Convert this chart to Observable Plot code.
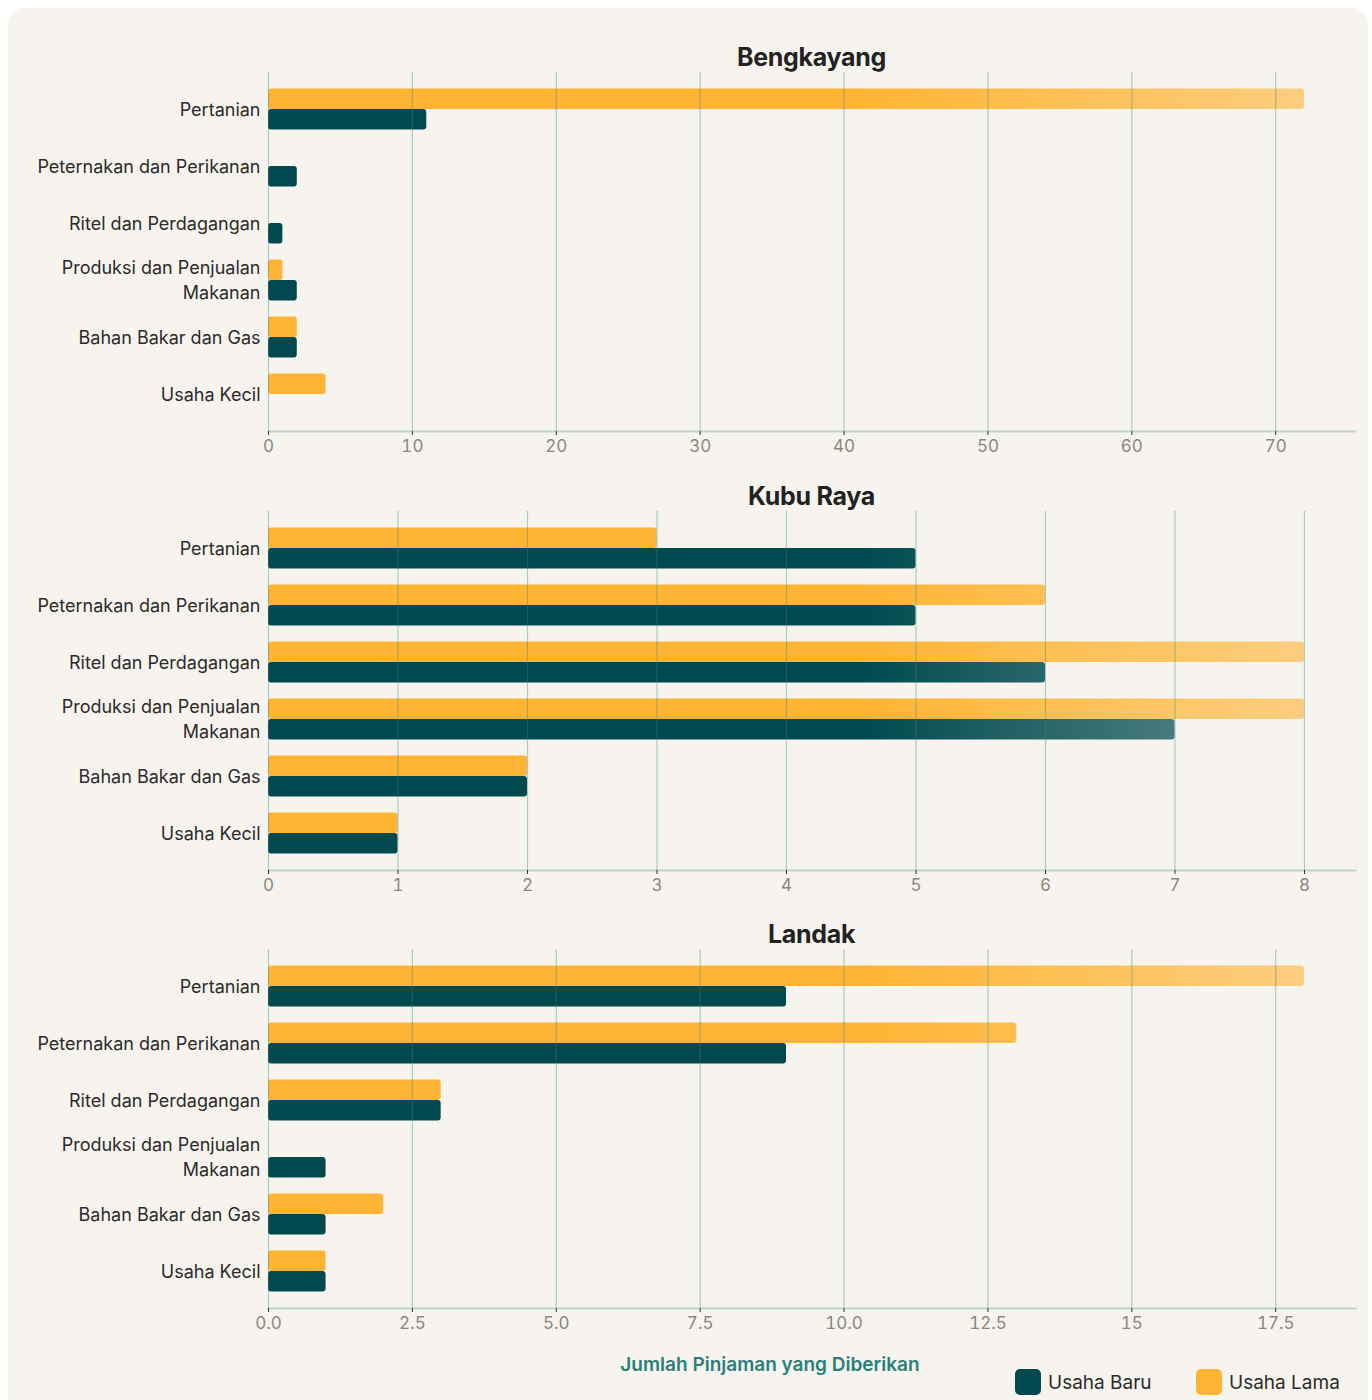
<!DOCTYPE html>
<html>
<head>
<meta charset="utf-8">
<script src="https://cdn.jsdelivr.net/npm/d3@7"></script>
<script src="https://cdn.jsdelivr.net/npm/@observablehq/plot@0.6"></script>
<style>
  html, body { margin: 0; padding: 0; background: #ffffff; }
  body { width: 1372px; height: 1400px; position: relative; overflow: hidden; font-family: Inter, "Noto Sans", sans-serif; }
  #card { position: absolute; left: 8px; top: 8px; width: 1360px; height: 1430px; background: #f7f4ef; border-radius: 16px; }
  .title { position: absolute; left: 268px; width: 1087px; text-align: center; font-size: 25px; font-weight: 700; color: #222; line-height: 30px; letter-spacing: -0.3px; }
  .panel { position: absolute; left: 0; }
  #xlabel { position: absolute; left: 570px; width: 400px; text-align: center; top: 1352px; font-size: 19px; font-weight: 600; color: #2a7f7a; line-height: 26px; }
  .leg { position: absolute; top: 1369px; display: flex; align-items: center; font-size: 19px; color: #2b2b2b; }
  .sw { width: 26px; height: 26px; border-radius: 5px; margin-right: 7px; }
</style>
</head>
<body>
<div id="card"></div>
<div id="root"></div>
<script>
// ---- data ----
const categories = ["Pertanian", "Peternakan dan Perikanan", "Ritel dan Perdagangan", "Produksi dan Penjualan Makanan", "Bahan Bakar dan Gas", "Usaha Kecil"];
const categoryLabels = ["Pertanian", "Peternakan dan Perikanan", "Ritel dan Perdagangan", "Produksi dan Penjualan\nMakanan", "Bahan Bakar dan Gas", "Usaha Kecil"];
const regions = ["Bengkayang", "Kubu Raya", "Landak"];
const seriesNames = ["Usaha Baru", "Usaha Lama"];

const bengkayangBaru = [11, 2, 1, 2, 2, 0];
const bengkayangLama = [72, 0, 0, 1, 2, 4];
const kubuRayaBaru = [5, 5, 6, 7, 2, 1];
const kubuRayaLama = [3, 6, 8, 8, 2, 1];
const landakBaru = [9, 9, 3, 1, 1, 1];
const landakLama = [18, 13, 3, 0, 2, 1];

const bengkayangTicks = [0, 10, 20, 30, 40, 50, 60, 70];
const bengkayangTickLabels = ["0", "10", "20", "30", "40", "50", "60", "70"];
const kubuRayaTicks = [0, 1, 2, 3, 4, 5, 6, 7, 8];
const kubuRayaTickLabels = ["0", "1", "2", "3", "4", "5", "6", "7", "8"];
const landakTicks = [0, 2.5, 5, 7.5, 10, 12.5, 15, 17.5];
const landakTickLabels = ["0.0", "2.5", "5.0", "7.5", "10.0", "12.5", "15", "17.5"];

const xLabel = "Jumlah Pinjaman yang Diberikan";

// ---- styling ----
const colorBaru = "#004a4f";
const colorLama = "#ffb433";
const gridColor = "#2f8f73";

const panels = [
  {name: regions[0], baru: bengkayangBaru, lama: bengkayangLama, max: 72, ticks: bengkayangTicks, labels: bengkayangTickLabels, top: 62},
  {name: regions[1], baru: kubuRayaBaru, lama: kubuRayaLama, max: 8, ticks: kubuRayaTicks, labels: kubuRayaTickLabels, top: 501},
  {name: regions[2], baru: landakBaru, lama: landakLama, max: 18, ticks: landakTicks, labels: landakTickLabels, top: 939}
];

const labelMap = new Map(categories.map((c, i) => [c, categoryLabels[i]]));
const root = document.getElementById("root");

panels.forEach((p, pi) => {
  const title = document.createElement("div");
  title.className = "title";
  title.style.top = (p.top - 20) + "px";
  title.textContent = p.name;
  root.appendChild(title);

  const rowsBaru = categories.map((c, i) => ({category: c, value: p.baru[i], series: seriesNames[0]})).filter(d => d.value > 0);
  const rowsLama = categories.map((c, i) => ({category: c, value: p.lama[i], series: seriesNames[1]})).filter(d => d.value > 0);
  const tickFmt = new Map(p.ticks.map((t, i) => [t, p.labels[i]]));

  const chart = Plot.plot({
    width: 1372,
    height: 404,
    marginTop: 10,
    marginBottom: 35,
    marginLeft: 268,
    marginRight: 17,
    style: {background: "transparent", overflow: "visible", fontFamily: "Inter, 'Noto Sans', sans-serif"},
    x: {domain: [0, p.max], range: [268, 1304], label: null},
    y: {domain: categories, paddingInner: 0.28, paddingOuter: 0.29, round: false, label: null},
    marks: [
      Plot.barX(rowsLama, {x: "value", y: "category", fill: `url(#gl${pi})`, insetBottom: 20.5, rx: 3}),
      Plot.barX(rowsBaru, {x: "value", y: "category", fill: `url(#gb${pi})`, insetTop: 20.5, rx: 3}),
      Plot.ruleX(p.ticks, {stroke: gridColor, strokeOpacity: 0.38, strokeWidth: 1.2}),
      Plot.frame({anchor: "bottom", stroke: gridColor, strokeOpacity: 0.3, strokeWidth: 2}),
      Plot.axisX({ticks: p.ticks, tickFormat: d => tickFmt.get(d), tickSize: 4, tickPadding: 4, stroke: "#333", fill: "#8a877d", fontSize: 17, anchor: "bottom", label: null}),
      Plot.axisY({tickSize: 0, tickPadding: 8, fontSize: 18, fill: "#2b2b2b", tickFormat: d => labelMap.get(d), lineHeight: 1.4, dy: -2, anchor: "left", label: null})
    ]
  });
  chart.classList.add("panel");
  chart.style.position = "absolute";
  chart.style.left = "0px";
  chart.style.top = p.top + "px";

  const svg = d3.select(chart);
  const defs = svg.insert("defs", ":first-child");
  [[`gl${pi}`, colorLama], [`gb${pi}`, colorBaru]].forEach(([id, col]) => {
    const g = defs.append("linearGradient").attr("id", id)
      .attr("gradientUnits", "userSpaceOnUse")
      .attr("x1", 860).attr("x2", 1304).attr("y1", 0).attr("y2", 0);
    g.append("stop").attr("offset", 0).attr("stop-color", col).attr("stop-opacity", 1);
    g.append("stop").attr("offset", 1).attr("stop-color", col).attr("stop-opacity", 0.6);
  });
  root.appendChild(chart);
});

const xl = document.createElement("div");
xl.id = "xlabel";
xl.textContent = xLabel;
root.appendChild(xl);

[[seriesNames[0], colorBaru, 1015], [seriesNames[1], colorLama, 1196]].forEach(([name, col, left]) => {
  const d = document.createElement("div");
  d.className = "leg";
  d.style.left = left + "px";
  const sw = document.createElement("div");
  sw.className = "sw";
  sw.style.background = col;
  const t = document.createElement("span");
  t.textContent = name;
  d.appendChild(sw);
  d.appendChild(t);
  root.appendChild(d);
});
</script>
</body>
</html>
